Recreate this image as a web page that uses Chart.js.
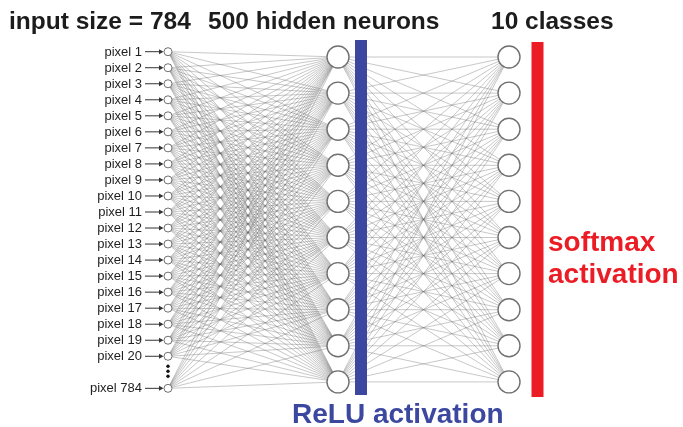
<!DOCTYPE html>
<html lang="en">
  <head>
    <meta charset="UTF-8" />
    <title>MLP</title>
    <style>
      body { margin: 0; background: #fff; }
      #net { display: block; }
    </style>
  </head>
  <body>
    <canvas id="net" width="683" height="427"></canvas>
    <script src="https://cdn.jsdelivr.net/npm/chart.js"></script>
    <script>
      // network description
      const layerTitles = ["input size = 784", "500 hidden neurons", "10 classes"];
      const inputLabels = [
        "pixel 1", "pixel 2", "pixel 3", "pixel 4", "pixel 5", "pixel 6", "pixel 7",
        "pixel 8", "pixel 9", "pixel 10", "pixel 11", "pixel 12", "pixel 13", "pixel 14",
        "pixel 15", "pixel 16", "pixel 17", "pixel 18", "pixel 19", "pixel 20", "pixel 784",
      ];
      const hiddenNodes = [1, 2, 3, 4, 5, 6, 7, 8, 9, 10];
      const outputNodes = [1, 2, 3, 4, 5, 6, 7, 8, 9, 10];
      const activations = ["ReLU activation", ["softmax", "activation"]];

      // layout (pixels)
      const layout = {
        inputX: 168, hiddenX: 338, outputX: 509,
        inputTop: 51.7, inputStep: 16.03, gapAt: 20,
        nodeTop: 57, nodeStep: 36.1,
        reluX: 361, reluTop: 40, reluBottom: 395,
        softX: 537.5, softTop: 42, softBottom: 397,
      };
      const blue = "#3c48a0";
      const red = "#ec1c24";

      const inputY = (i) => layout.inputTop + layout.inputStep * (i < layout.gapAt ? i : i + 1);
      const nodeY = (j) => layout.nodeTop + layout.nodeStep * j;

      const inputPts = inputLabels.map((l, i) => ({ x: layout.inputX, y: inputY(i) }));
      const hiddenPts = hiddenNodes.map((n, j) => ({ x: layout.hiddenX, y: nodeY(j) }));
      const outputPts = outputNodes.map((n, j) => ({ x: layout.outputX, y: nodeY(j) }));

      const datasets = [];
      const edge = (a, b) => ({
        data: [a, b],
        showLine: true,
        pointRadius: 0,
        borderColor: "rgba(100,100,100,0.42)",
        borderWidth: 0.85,
        order: 2,
      });
      inputPts.forEach((a) => hiddenPts.forEach((b) => datasets.push(edge(a, b))));
      hiddenPts.forEach((a) => outputPts.forEach((b) => datasets.push(edge(a, b))));

      const bar = (x, top, bottom, color) => ({
        data: [{ x: x, y: top }, { x: x, y: bottom }],
        showLine: true,
        pointRadius: 0,
        borderColor: color,
        borderWidth: 12,
        borderCapStyle: "butt",
        order: 1,
      });
      datasets.push(bar(layout.reluX, layout.reluTop, layout.reluBottom, blue));
      datasets.push(bar(layout.softX, layout.softTop, layout.softBottom, red));

      const nodes = (pts, r, bw) => ({
        data: pts,
        pointRadius: r,
        pointBackgroundColor: "#fff",
        pointBorderColor: "#707070",
        pointBorderWidth: bw,
        order: 0,
      });
      datasets.push(nodes(inputPts, 4, 1));
      datasets.push(nodes(hiddenPts, 11, 1.4));
      datasets.push(nodes(outputPts, 11, 1.4));

      const textPlugin = {
        id: "netText",
        afterDatasetsDraw(chart) {
          const ctx = chart.ctx;
          const xs = chart.scales.x;
          const ys = chart.scales.y;
          ctx.save();
          // titles
          ctx.fillStyle = "#1c1c1c";
          ctx.font = "bold 24.5px 'Liberation Sans', Arial, sans-serif";
          ctx.textBaseline = "alphabetic";
          ctx.textAlign = "left";
          ctx.fillText(layerTitles[0], 9, 29);
          ctx.fillText(layerTitles[1], 208, 29);
          ctx.fillText(layerTitles[2], 491, 29);
          // input labels + arrows
          ctx.font = "13px 'Liberation Sans', Arial, sans-serif";
          ctx.textAlign = "right";
          ctx.textBaseline = "middle";
          const cx = xs.getPixelForValue(layout.inputX);
          inputPts.forEach((p, i) => {
            const y = ys.getPixelForValue(p.y);
            ctx.fillStyle = "#1e1e1e";
            ctx.fillText(inputLabels[i], 142, y + 0.5);
            ctx.strokeStyle = "#333";
            ctx.lineWidth = 1;
            ctx.beginPath();
            ctx.moveTo(145, y);
            ctx.lineTo(cx - 6, y);
            ctx.stroke();
            ctx.fillStyle = "#333";
            ctx.beginPath();
            ctx.moveTo(cx - 4.5, y);
            ctx.lineTo(cx - 9, y - 2.5);
            ctx.lineTo(cx - 9, y + 2.5);
            ctx.closePath();
            ctx.fill();
          });
          // ellipsis between pixel 20 and pixel 784
          ctx.fillStyle = "#111";
          const gy = ys.getPixelForValue(layout.inputTop + layout.inputStep * layout.gapAt);
          [-5, 0, 5].forEach((d) => {
            ctx.beginPath();
            ctx.arc(cx, gy + d - 1, 1.7, 0, Math.PI * 2);
            ctx.fill();
          });
          // activation labels
          ctx.textAlign = "left";
          ctx.textBaseline = "alphabetic";
          ctx.font = "bold 28px 'Liberation Sans', Arial, sans-serif";
          ctx.fillStyle = blue;
          ctx.fillText(activations[0], 292, 423);
          ctx.fillStyle = red;
          ctx.fillText(activations[1][0], 548, 251);
          ctx.fillText(activations[1][1], 548, 283);
          ctx.restore();
        },
      };

      new Chart(document.getElementById("net"), {
        type: "scatter",
        data: { datasets: datasets },
        options: {
          responsive: false,
          animation: false,
          events: [],
          layout: { padding: 0, autoPadding: false },
          plugins: { legend: { display: false }, tooltip: { enabled: false } },
          scales: {
            x: { type: "linear", min: 0, max: 683, display: false },
            y: { type: "linear", min: 0, max: 427, reverse: true, display: false },
          },
        },
        plugins: [textPlugin],
      });
    </script>
  </body>
</html>
